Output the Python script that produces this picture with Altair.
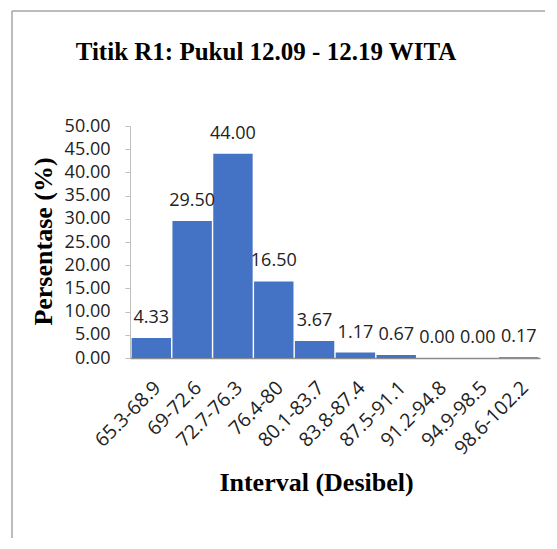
import altair as alt
import pandas as pd

categories = ["65.3-68.9", "69-72.6", "72.7-76.3", "76.4-80", "80.1-83.7",
              "83.8-87.4", "87.5-91.1", "91.2-94.8", "94.9-98.5", "98.6-102.2"]
values = [4.33, 29.50, 44.00, 16.50, 3.67, 1.17, 0.67, 0.00, 0.00, 0.17]
y_ticks = [0, 5, 10, 15, 20, 25, 30, 35, 40, 45, 50]

chart_title = "Titik R1: Pukul 12.09 - 12.19 WITA"
x_title = "Interval (Desibel)"
y_title = "Persentase (%)"

df = pd.DataFrame({"interval": categories, "persen": values})

LABEL_FONT = "Open Sans"
SERIF = "Liberation Serif"

x_enc = alt.X(
    "interval:N", sort=categories, title=x_title,
    scale=alt.Scale(paddingInner=0.035, paddingOuter=0.04),
    axis=alt.Axis(
        labelAngle=-45, ticks=False, tickSize=0, labelPadding=20,
        labelFont=LABEL_FONT, labelFontSize=19.5, labelColor="#222222",
        domainColor="#8c8c8c", domainWidth=1.5,
        titleFont=SERIF, titleFontSize=26, titleFontWeight="bold", titleColor="#000000",
        titleBaseline="alphabetic", titleAlign="center", titleX=186, titleY=132,
    ),
)
y_enc = alt.Y(
    "persen:Q", title=y_title,
    scale=alt.Scale(domain=[0, 50], nice=False),
    axis=alt.Axis(
        values=y_ticks, format=".2f", grid=False,
        tickSize=5, tickColor="#bfbfbf", domainColor="#bfbfbf",
        labelPadding=15, labelFont=LABEL_FONT, labelFontSize=18, labelColor="#222222",
        titleFont=SERIF, titleFontSize=26, titleFontWeight="bold", titleColor="#000000",
        titleBaseline="alphabetic", titleAlign="center", titleAngle=-90,
        titleX=-79, titleY=115,
    ),
)

base = alt.Chart(df)
bars = base.mark_bar(color="#4472C4").encode(x=x_enc, y=y_enc)
labels = base.mark_text(
    font=LABEL_FONT, fontSize=18, color="#222222", baseline="alphabetic", dy=-15
).encode(x=x_enc, y=y_enc, text=alt.Text("persen:Q", format=".2f"))

frame_df = pd.DataFrame({"k": [0]})
left_border = alt.Chart(frame_df).mark_rule(color="#a6a6a6", strokeWidth=1.5).encode(
    x=alt.value(-118), y=alt.value(-115), y2=alt.value(500)
)
top_border = alt.Chart(frame_df).mark_rule(color="#a6a6a6", strokeWidth=1.5).encode(
    x=alt.value(-118), x2=alt.value(500), y=alt.value(-115)
)

chart = alt.layer(left_border, top_border, bars, labels).properties(
    width=410, height=232,
    title=alt.TitleParams(
        chart_title, font=SERIF, fontSize=25, fontWeight="bold", color="#000000",
        anchor="middle", dx=-69, offset=-75, baseline="alphabetic",
    ),
    autosize=alt.AutoSizeParams(type="none"),
    padding={"left": 122, "top": 118, "right": 5, "bottom": 180},
).configure_view(stroke=None)

chart.save("out.html", embed_options={"renderer": "svg", "actions": False})
